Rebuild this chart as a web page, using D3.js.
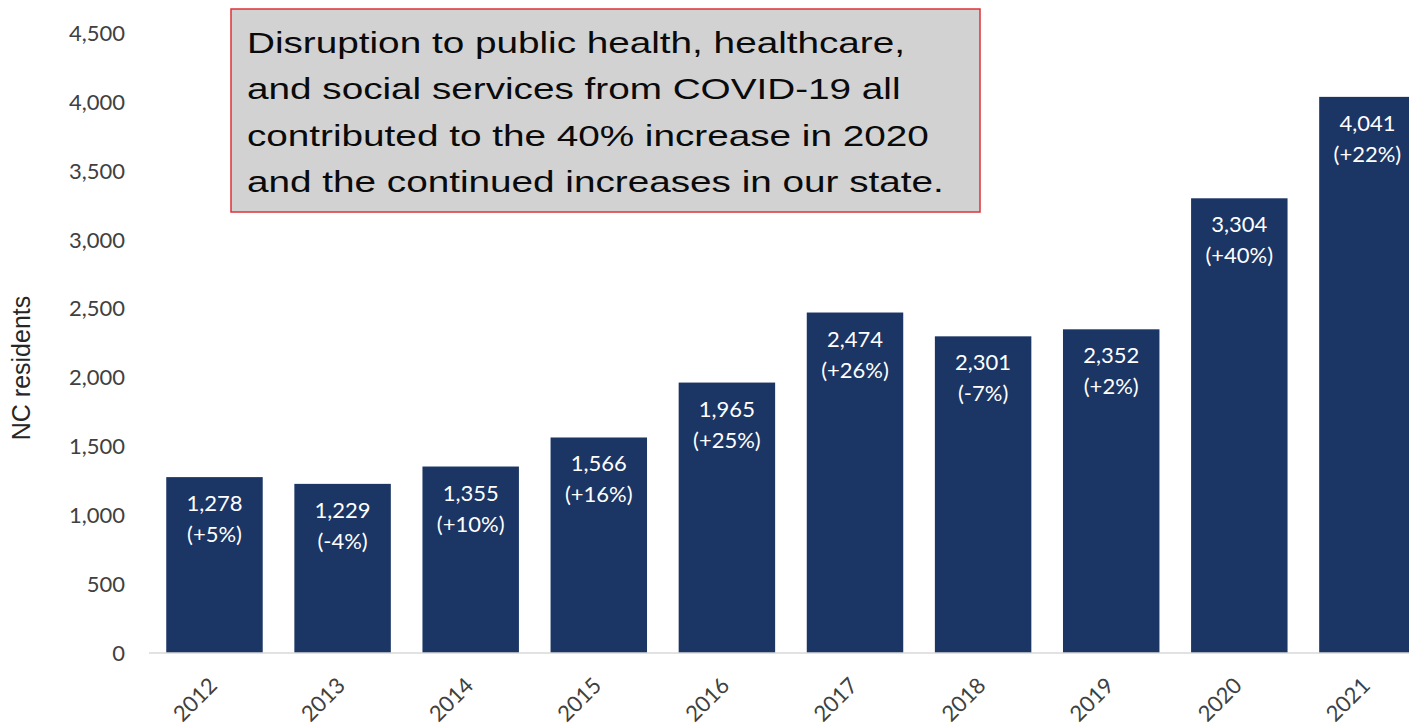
<!DOCTYPE html>
<html>
<head>
<meta charset="utf-8">
<script src="https://cdn.jsdelivr.net/npm/d3@7"></script>
<style>
    body { margin: 0; background: #fff; }
    svg { display: block; }
</style>
</head>
<body>
<script>
// data
const years = ['2012', '2013', '2014', '2015', '2016', '2017', '2018', '2019', '2020', '2021']
const residents = [1278, 1229, 1355, 1566, 1965, 2474, 2301, 2352, 3304, 4041]
const changes = ['(+5%)', '(-4%)', '(+10%)', '(+16%)', '(+25%)', '(+26%)', '(-7%)', '(+2%)', '(+40%)', '(+22%)']
const yTicks = [0, 500, 1000, 1500, 2000, 2500, 3000, 3500, 4000, 4500]
const yTitle = 'NC residents'
const noteLines = [
    'Disruption to public health, healthcare,',
    'and social services from COVID-19 all',
    'contributed to the 40% increase in 2020',
    'and the continued increases in our state.'
]

const width = 1422, height = 726
const barColor = '#1b3564'
const labelFont = 'Lato, "Open Sans", sans-serif'

const svg = d3.select('body').append('svg')
    .attr('width', width)
    .attr('height', height)

const x = d3.scaleBand()
    .domain(years)
    .range([149.6, 1432.3])
    .paddingInner(0.247)
    .paddingOuter(0.13)

const y = d3.scaleLinear()
    .domain([0, 4500])
    .range([653, 33.7])

// picture is cut off on the right
svg.append('clipPath').attr('id', 'plotclip')
    .append('rect').attr('x', 0).attr('y', 0).attr('width', 1409).attr('height', height)

// y axis labels only, no line
const yAxis = svg.append('g')
    .attr('transform', 'translate(137,0)')
    .call(d3.axisLeft(y).tickValues(yTicks).tickSize(0).tickPadding(12).tickFormat(d3.format(',')))
yAxis.select('.domain').remove()
yAxis.selectAll('text')
    .style('font-family', labelFont)
    .style('font-size', '22px')
    .attr('fill', '#404040')

svg.append('text')
    .attr('transform', 'translate(30,368) rotate(-90)')
    .attr('text-anchor', 'middle')
    .style('font-family', '"Liberation Sans", Arial, sans-serif')
    .style('font-size', '25px')
    .attr('fill', '#262626')
    .text(yTitle)

const plot = svg.append('g').attr('clip-path', 'url(#plotclip)')

plot.selectAll('rect.bar')
    .data(years)
    .join('rect')
    .attr('class', 'bar')
    .attr('x', d => x(d))
    .attr('y', (d, i) => y(residents[i]))
    .attr('width', x.bandwidth())
    .attr('height', (d, i) => y(0) - y(residents[i]))
    .attr('fill', barColor)

// baseline
plot.append('line')
    .attr('x1', 149).attr('x2', 1409)
    .attr('y1', y(0)).attr('y2', y(0))
    .attr('stroke', '#d9d9d9')
    .attr('stroke-width', 1.5)

const labels = plot.selectAll('text.val')
    .data(years)
    .join('text')
    .attr('class', 'val')
    .attr('text-anchor', 'middle')
    .style('font-family', labelFont)
    .style('font-size', '22px')
    .attr('fill', '#ffffff')
labels.append('tspan')
    .attr('x', d => x(d) + x.bandwidth() / 2)
    .attr('y', (d, i) => y(residents[i]) + 34)
    .text((d, i) => d3.format(',')(residents[i]))
labels.append('tspan')
    .attr('x', d => x(d) + x.bandwidth() / 2)
    .attr('y', (d, i) => y(residents[i]) + 65)
    .text((d, i) => changes[i])

// x labels, tilted
svg.selectAll('text.year')
    .data(years)
    .join('text')
    .attr('class', 'year')
    .attr('text-anchor', 'end')
    .attr('transform', d => 'translate(' + (x(d) + x.bandwidth() / 2 + 4) + ',687) rotate(-45)')
    .style('font-family', labelFont)
    .style('font-size', '22px')
    .attr('fill', '#404040')
    .text(d => d)

// annotation box
svg.append('rect')
    .attr('x', 231).attr('y', 9)
    .attr('width', 749).attr('height', 203)
    .attr('fill', '#d2d2d2')
    .attr('stroke', '#e0303a')
    .attr('stroke-width', 1.5)

// the note is drawn wider than tall in the picture, so stretch it sideways
svg.append('g')
    .attr('transform', 'translate(247,0) scale(1.29,1)')
    .append('text')
    .style('font-family', '"Liberation Sans", Arial, sans-serif')
    .style('font-size', '30px')
    .attr('fill', '#0a0a0a')
    .selectAll('tspan')
    .data(noteLines)
    .join('tspan')
    .attr('x', 0)
    .attr('y', (d, i) => 53 + i * 46.5)
    .text(d => d)
</script>
</body>
</html>
